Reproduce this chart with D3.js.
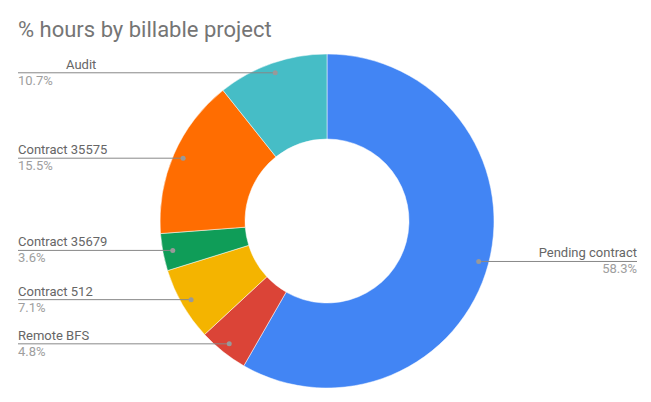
<!DOCTYPE html>
<html>
<head>
<meta charset="utf-8">
<script src="https://cdn.jsdelivr.net/npm/d3@7"></script>
<style>
  body { margin: 0; background: #fff; }
  text { font-family: Roboto, "Noto Sans", sans-serif; }
</style>
</head>
<body>
<div id="chart"></div>
<script>
// data, in drawing order (clockwise from 12 o'clock)
var projects = ["Pending contract", "Remote BFS", "Contract 512", "Contract 35679", "Contract 35575", "Audit"];
var shares = [58.3, 4.8, 7.1, 3.6, 15.5, 10.7];
var colors = ["#4285f4", "#db4437", "#f4b400", "#0f9d58", "#ff6d01", "#46bdc6"];

var width = 651, height = 402;
var cx = 327, cy = 221, outerR = 167, innerR = 82, dotR = 157;

var svg = d3.select("#chart")
  .append("svg")
    .attr("width", width)
    .attr("height", height);

svg.append("text")
  .attr("x", 18)
  .attr("y", 37)
  .style("font-size", "22px")
  .style("fill", "#757575")
  .text("% hours by billable project");

var rows = projects.map(function(p, i) { return {name: p, value: shares[i], color: colors[i]}; });

var pie = d3.pie().sort(null).value(function(d) { return d.value; });
var arcs = pie(rows);

var arc = d3.arc().innerRadius(innerR).outerRadius(outerR);
var dotArc = d3.arc().innerRadius(dotR).outerRadius(dotR);

var g = svg.append("g").attr("transform", "translate(" + cx + "," + cy + ")");

g.selectAll("path")
  .data(arcs)
  .enter()
  .append("path")
    .attr("d", arc)
    .attr("fill", function(d) { return d.data.color; })
    .attr("stroke", "#fff")
    .attr("stroke-width", 0.5);

// leader lines + labels
var labels = svg.append("g");
arcs.forEach(function(d) {
  var c = dotArc.centroid(d);
  var x = cx + c[0], y = cy + c[1];
  var right = x > cx;
  var x0 = right ? x : 18, x1 = right ? 637 : x;

  labels.append("line")
    .attr("x1", x0).attr("x2", x1)
    .attr("y1", y).attr("y2", y)
    .attr("stroke", "#888")
    .attr("stroke-width", 1);

  labels.append("circle")
    .attr("cx", x).attr("cy", y).attr("r", 2.5)
    .attr("fill", "#999");

  // the Audit name sits a bit further in, as in the original
  var nameX = right ? 637 : (d.data.name == "Audit" ? 66 : 18);

  labels.append("text")
    .attr("x", nameX)
    .attr("y", y - 4)
    .attr("text-anchor", right ? "end" : "start")
    .style("font-size", "13px")
    .style("fill", "#666")
    .text(d.data.name);

  labels.append("text")
    .attr("x", right ? 637 : 18)
    .attr("y", y + 12)
    .attr("text-anchor", right ? "end" : "start")
    .style("font-size", "13px")
    .style("fill", "#9e9e9e")
    .text(d.data.value.toFixed(1) + "%");
});
</script>
</body>
</html>
